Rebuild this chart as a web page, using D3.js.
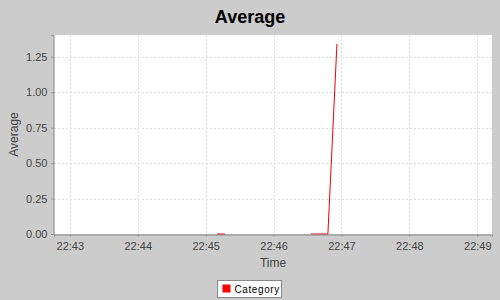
<!DOCTYPE html>
<html>
<head>
<meta charset="utf-8">
<script src="https://cdn.jsdelivr.net/npm/d3@7"></script>
<style>
  body { margin: 0; background: #cccccc; }
  svg { display: block; }
</style>
</head>
<body>
<script>
// series data, null marks a gap in the line
const times = ["22:45:10", "22:45:17", "22:45:30", "22:46:33", "22:46:48", "22:46:56"];
const values = [0, 0, null, 0, 0, 1.34];

const xTickTimes = ["22:43", "22:44", "22:45", "22:46", "22:47", "22:48", "22:49"];
const yTicks = [0, 0.25, 0.5, 0.75, 1.0, 1.25];

const seriesName = "Category";
const chartTitle = "Average";

const width = 500, height = 300;
const margin = {top: 35, right: 8, bottom: 66, left: 54};

const parseTime = d3.timeParse("%H:%M:%S");
const parseMin = d3.timeParse("%H:%M");

const data = times.map((t, i) => ({t: parseTime(t), v: values[i]}));

const svg = d3.select("body").append("svg")
    .attr("width", width)
    .attr("height", height)
    .style("font-family", "'Liberation Sans', Arial, sans-serif");

svg.append("rect")
    .attr("width", width).attr("height", height)
    .attr("fill", "#cccccc");

const x = d3.scaleTime()
    .domain([parseTime("22:42:46"), parseTime("22:49:13")])
    .range([margin.left, width - margin.right]);

const y = d3.scaleLinear()
    .domain([0, 1.403])
    .range([height - margin.bottom, margin.top]);

// plot background
svg.append("rect")
    .attr("x", margin.left)
    .attr("y", margin.top)
    .attr("width", width - margin.left - margin.right)
    .attr("height", height - margin.top - margin.bottom)
    .attr("fill", "#ffffff");

// gridlines
const xTicks = xTickTimes.map(parseMin);
svg.append("g").selectAll("line")
    .data(xTicks)
    .join("line")
    .attr("x1", d => Math.round(x(d)) + 0.5)
    .attr("x2", d => Math.round(x(d)) + 0.5)
    .attr("y1", margin.top)
    .attr("y2", height - margin.bottom)
    .attr("stroke", "#dddddd")
    .attr("stroke-dasharray", "2,2");

svg.append("g").selectAll("line")
    .data(yTicks.filter(d => d > 0))
    .join("line")
    .attr("x1", margin.left)
    .attr("x2", width - margin.right)
    .attr("y1", d => Math.round(y(d)) + 0.5)
    .attr("y2", d => Math.round(y(d)) + 0.5)
    .attr("stroke", "#dddddd")
    .attr("stroke-dasharray", "2,2");

// the series line
const line = d3.line()
    .defined(d => d.v !== null)
    .x(d => x(d.t))
    .y(d => y(d.v));

svg.append("path")
    .datum(data)
    .attr("d", line)
    .attr("fill", "none")
    .attr("stroke", "#ee0000")
    .attr("stroke-width", 1);

// axes
const xAxis = d3.axisBottom(x)
    .tickValues(xTicks)
    .tickFormat(d3.timeFormat("%H:%M"))
    .tickSize(2)
    .tickPadding(6);

const gx = svg.append("g")
    .attr("transform", `translate(0,${height - margin.bottom + 0.5})`)
    .call(xAxis);

const yAxis = d3.axisLeft(y)
    .tickValues(yTicks)
    .tickFormat(d3.format(".2f"))
    .tickSize(2)
    .tickPadding(4);

const gy = svg.append("g")
    .attr("transform", `translate(${margin.left - 0.5},0)`)
    .call(yAxis);

[gx, gy].forEach(g => {
  g.select(".domain").attr("stroke", "#888888");
  g.selectAll(".tick line").attr("stroke", "#888888");
  g.selectAll(".tick text")
      .attr("fill", "#444444")
      .style("font-size", "11px")
      .style("font-family", "'Liberation Sans', Arial, sans-serif");
});

// title
svg.append("text")
    .attr("x", 250)
    .attr("y", 23)
    .attr("text-anchor", "middle")
    .style("font-size", "18px")
    .style("font-weight", "bold")
    .attr("fill", "#000000")
    .text(chartTitle);

// axis labels
svg.append("text")
    .attr("x", (margin.left + width - margin.right) / 2)
    .attr("y", 267)
    .attr("text-anchor", "middle")
    .style("font-size", "12px")
    .attr("fill", "#444444")
    .text("Time");

svg.append("text")
    .attr("transform", `translate(18,${(margin.top + height - margin.bottom) / 2}) rotate(-90)`)
    .attr("text-anchor", "middle")
    .style("font-size", "12px")
    .attr("fill", "#444444")
    .text("Average");

// legend
const legend = svg.append("g").attr("transform", "translate(217.5,280.5)");
legend.append("rect")
    .attr("width", 64)
    .attr("height", 17)
    .attr("fill", "#ffffff")
    .attr("stroke", "#888888");
legend.append("rect")
    .attr("x", 5).attr("y", 4)
    .attr("width", 8).attr("height", 8)
    .attr("fill", "#ff0000");
legend.append("text")
    .attr("x", 17)
    .attr("y", 12.5)
    .style("font-size", "10px")
    .style("letter-spacing", "0.6px")
    .attr("fill", "#000000")
    .text(seriesName);
</script>
</body>
</html>
